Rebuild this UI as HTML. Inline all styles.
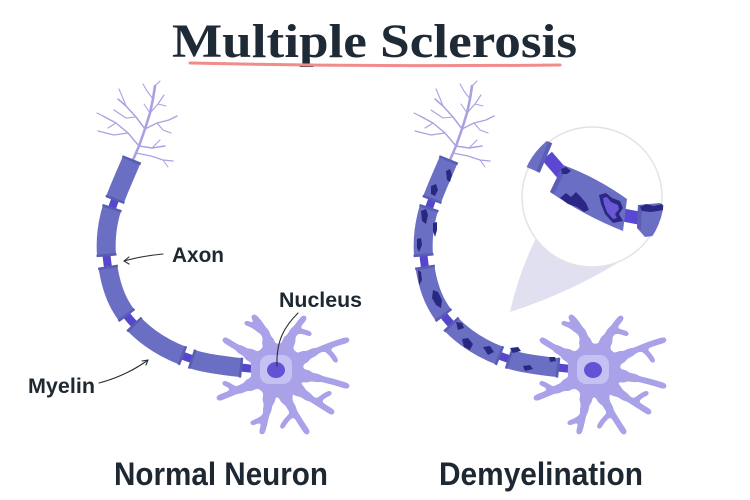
<!DOCTYPE html>
<html><head><meta charset="utf-8"><style>
html,body{margin:0;padding:0;background:#fff;}
svg{display:block;}
</style></head><body>
<svg width="750" height="500" viewBox="0 0 750 500" xmlns="http://www.w3.org/2000/svg">
<rect width="750" height="500" fill="#ffffff"/>
<defs>
  <filter id="goo" x="-60%" y="-60%" width="220%" height="220%" color-interpolation-filters="sRGB">
    <feGaussianBlur in="SourceGraphic" stdDeviation="1.8" result="b"/>
    <feColorMatrix in="b" type="matrix" values="1 0 0 0 0  0 1 0 0 0  0 0 1 0 0  0 0 0 16 -6.5"/>
  </filter>
  <g id="dend" stroke="#a8a2e2" fill="none" stroke-linecap="round" stroke-linejoin="round">
    <path stroke-width="2.6" d="M133,160 L139,146 L145,129 L150,113 L153,99 L155,86"/>
    <path stroke-width="1.4" d="M139,146 L128,133 L116,123 L103,116"/>
    <path stroke-width="1.2" d="M128,133 L114,135 L98,131"/>
    <path stroke-width="1.5" d="M145,129 L136,117 L126,106 L118,99"/>
    <path stroke-width="1.1" d="M136,117 L126,118 L114,110"/>
    <path stroke-width="1.1" d="M126,106 L122,96 L119,89"/>
    <path stroke-width="1.2" d="M150,113 L158,104 L164,95"/>
    <path stroke-width="1" d="M150,113 L144,104"/>
    <path stroke-width="1" d="M158,104 L166,106"/>
    <path stroke-width="1.4" d="M145,129 L157,123 L169,120 L177,116"/>
    <path stroke-width="1.1" d="M157,123 L163,130 L171,133"/>
    <path stroke-width="1.4" d="M139,146 L152,148 L165,146"/>
    <path stroke-width="1.1" d="M152,148 L160,140"/>
    <path stroke-width="1.3" d="M136,153 L151,156 L163,160 L173,161"/>
    <path stroke-width="1.1" d="M153,99 L147,91 L143,84"/>
    <path stroke-width="1.1" d="M155,86 L160,81"/>
    <path stroke-width="1.1" d="M116,123 L108,128"/>
    <path stroke-width="1.1" d="M103,116 L97,113"/>
    <path stroke-width="1" d="M163,160 L168,167"/>
  </g>
  <g id="tent">
    <path d="M-6,-18 C-8,-32 -12,-42 -22,-52"/>
    <path d="M10,-20 C14,-32 20,-42 28,-51"/>
    <path d="M20,-8 C36,-16 52,-24 71,-29"/>
    <path d="M22,6 C40,8 56,12 71,17"/>
    <path d="M16,16 C28,26 42,34 56,43"/>
    <path d="M6,22 C14,36 22,50 31,63"/>
    <path d="M-6,22 C-8,38 -10,50 -14,63"/>
    <path d="M-18,12 C-30,18 -44,24 -57,29"/>
    <path d="M-18,-10 C-30,-16 -40,-22 -51,-29"/>
  </g>
  <g id="cell">
    <g filter="url(#goo)">
      <circle cx="1" cy="1" r="26" fill="#a9a2e9"/>
      <g stroke="#a9a2e9" fill="none">
        <use href="#tent" stroke-width="12" stroke-dasharray="12 300"/>
        <use href="#tent" stroke-width="8" stroke-dasharray="22 300"/>
        <use href="#tent" stroke-width="5.5" stroke-linecap="round"/>
        <g stroke-width="4.5" stroke-linecap="round">
          <path d="M-16,-38 Q-22,-44 -30,-46"/>
          <path d="M48,-21 Q56,-16 60,-8"/>
          <path d="M42,32 Q48,26 54,24"/>
          <path d="M18,44 Q10,50 6,58"/>
          <path d="M-10,46 Q-16,52 -24,54"/>
          <path d="M-40,21 Q-46,16 -52,14"/>
          <path d="M20,-38 Q28,-38 34,-35"/>
        </g>
      </g>
    </g>
    <rect x="-16" y="-14" width="32" height="29" rx="9" fill="#c6c1f3"/>
    <ellipse cx="0" cy="1" rx="9" ry="8" fill="#6352d4"/>
  </g>
  <g id="neuron">
    <use href="#dend"/>
    <path d="M132,159 C128.3,168.3 114.2,198.2 110,215 C105.8,231.8 105.3,245 107,260 C108.7,275 112.8,292 120,305 C127.2,318 137.5,328.8 150,338 C162.5,347.2 178,354.8 195,360 C212,365.2 242.5,367.5 254,369" fill="none" stroke="#5646cc" stroke-width="8"/>
    <path pathLength="306" d="M132,159 C128.3,168.3 114.2,198.2 110,215 C105.8,231.8 105.3,245 107,260 C108.7,275 112.8,292 120,305 C127.2,318 137.5,328.8 150,338 C162.5,347.2 178,354.8 195,360 C212,365.2 242.5,367.5 252,369" fill="none" stroke="#6b6fc4" stroke-width="19" stroke-dasharray="45 7 50 10 54 10 60 8 52 400"/>
    <path pathLength="306" d="M132,159 C128.3,168.3 114.2,198.2 110,215 C105.8,231.8 105.3,245 107,260 C108.7,275 112.8,292 120,305 C127.2,318 137.5,328.8 150,338 C162.5,347.2 178,354.8 195,360 C212,365.2 242.5,367.5 252,369" fill="none" stroke="#585db3" stroke-width="20" stroke-dasharray="2.5 40 2.5 7 2.5 45 2.5 10 2.5 49 2.5 10 2.5 55 2.5 8 2.5 47 2.5 400"/>
    <use href="#cell" transform="translate(276,369)"/>
  </g>
  <clipPath id="magc"><circle cx="592" cy="197" r="72"/></clipPath>
</defs>

<!-- Title -->
<text x="172" y="57" font-family="'Liberation Serif', serif" font-weight="bold" font-size="48" fill="#1f2a37" textLength="405" lengthAdjust="spacingAndGlyphs">Multiple Sclerosis</text>
<path d="M190,63 Q375,67 560,65" stroke="#f08c8c" stroke-width="3" fill="none" stroke-linecap="round"/>

<!-- Normal neuron -->
<use href="#neuron"/>

<!-- Demyelinated neuron -->
<use href="#neuron" transform="translate(317,0)"/>
<g fill="#29287f">
  <path d="M446,171 L450,169 L452,175 L450,182 L447,180 Z"/>
  <path d="M431,186 L436,184 L438,190 L435,196 L431,194 Z"/>
  <path d="M421,211 L426,209 L428,215 L426,224 L422,221 Z"/>
  <path d="M433,223 L437,222 L437,230 L435,237 L433,231 Z"/>
  <path d="M417,239 L421,238 L422,245 L419,252 L417,248 Z"/>
  <path d="M418,270 L421,272 L422,280 L419,285 Z"/>
  <path d="M433,290 L438,292 L442,300 L441,308 L436,305 L432,298 Z"/>
  <path d="M456,322 L462,323 L464,328 L458,330 Z"/>
  <path d="M462,339 L468,338 L473,344 L470,350 L464,347 Z"/>
  <path d="M483,347 L490,346 L494,352 L488,355 Z"/>
  <path d="M510,348 L518,347 L521,351 L513,353 Z"/>
  <path d="M523,366 L530,365 L533,369 L525,371 Z"/>
  <path d="M549,357 L555,357 L556,361 L550,362 Z"/>
</g>

<!-- Magnifier cone -->
<path d="M510,312 Q519,272 537,236 L600,240 L624,259 Q572,292 510,312 Z" fill="#e0e0f0"/>
<circle cx="592" cy="197" r="70" fill="#ffffff" stroke="#e3e3e6" stroke-width="1.5"/>

<!-- Magnified segment -->
<g clip-path="url(#magc)">
  <path d="M547,156 L566,178" stroke="#5b48d2" stroke-width="13" fill="none"/>
  <path d="M618,214 L644,219" stroke="#5b48d2" stroke-width="13" fill="none"/>
  <path d="M539.8,172.7 L552.2,143.3 L532,134.7 L519.6,164.1 Z" fill="#6b6fc4"/>
  <path d="M539.8,172.7 L552.2,143.3 L548.5,141.7 L536.1,171.1 Z" fill="#5a5eb6"/>
  <path d="M563,165 Q596,177 627,199 L623,231 Q585,216 550,192 Z" fill="#6b6fc4"/>
  <path d="M563,165 L567,167 L554,194 L550,192 Z" fill="#5a5eb6"/>
  <path d="M638,205 L660,203 L668,208 L668,234 L645,237 L637,228 Z" fill="#6b6fc4"/>
  <path d="M638,205 L642,205 L641,230 L637,228 Z" fill="#5a5eb6"/>
  <g fill="#2a2884">
    <path d="M561,169 L566,167 L571,171 L567,174 L562,174 Z"/>
    <path d="M560,198 L566,193 L571,197 L576,192 L581,197 L586,203 L589,210 L584,212 L577,207 L568,204 Z"/>
    <path d="M599,195 L606,193 L612,198 L620,201 L623,208 L619,214 L623,221 L613,223 L605,214 L601,204 Z"/>
    <path d="M640,207 L646,204 L654,206 L662,204 L664,210 L651,212 L642,211 Z"/>
  </g>
  <path d="M603,198 L607,197 L611,202 L618,205 L619,209 L615,214 L617,218 L613,219 L607,212 L604,204 Z" fill="#6a58d6"/>
</g>

<!-- Annotations -->
<g stroke="#2a2f36" stroke-width="1.1" fill="none" stroke-linecap="round" stroke-linejoin="round">
  <path d="M163,254 Q142,256 124,261"/>
  <path d="M129,257 L124,261 L129,264"/>
  <path d="M99,383 Q126,376 148,360"/>
  <path d="M142,361 L148,360 L146,365"/>
  <path d="M298,313 C285,326 276,340 277,366"/>
</g>

<g font-family="'Liberation Sans', Arial, sans-serif" font-weight="bold" fill="#1e2833">
  <text x="172" y="262" font-size="21" textLength="52" lengthAdjust="spacingAndGlyphs">Axon</text>
  <text x="279" y="307" font-size="21" textLength="83" lengthAdjust="spacingAndGlyphs">Nucleus</text>
  <text x="28" y="393" font-size="21" textLength="67" lengthAdjust="spacingAndGlyphs">Myelin</text>
  <text x="114" y="485" font-size="32" textLength="214" lengthAdjust="spacingAndGlyphs">Normal Neuron</text>
  <text x="439" y="485" font-size="32" textLength="204" lengthAdjust="spacingAndGlyphs">Demyelination</text>
</g>
</svg>
</body></html>
